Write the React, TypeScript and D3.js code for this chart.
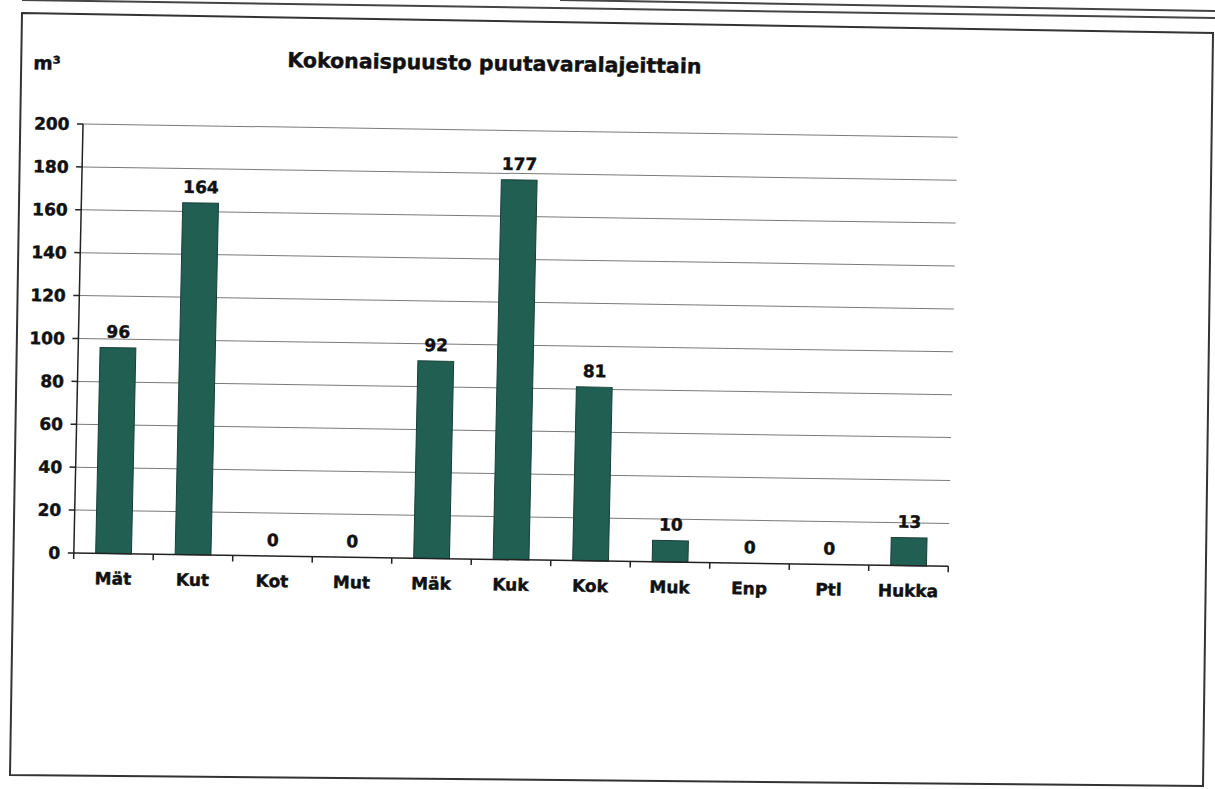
import * as d3 from "d3";

// Kokonaispuusto puutavaralajeittain (m³)
const categories = ["Mät", "Kut", "Kot", "Mut", "Mäk", "Kuk", "Kok", "Muk", "Enp", "Ptl", "Hukka"];
const values = [96, 164, 0, 0, 92, 177, 81, 10, 0, 0, 13];
const yTicks = [0, 20, 40, 60, 80, 100, 120, 140, 160, 180, 200];

const W = 1215;
const H = 789;
const plotW = 874.5;
const plotH = 429;
// the scan is slightly skewed, so the plot sits in a sheared group
const skew = "matrix(1,0.0152,-0.0215,1,73.8,553)";
const font = "'DejaVu Sans', Verdana, sans-serif";
const barFill = "#215f52";
const ink = "#111";

export default function App() {
  const x = d3.scaleBand<string>().domain(categories).range([0, plotW]).paddingInner(0.55).paddingOuter(0.275);
  const y = d3.scaleLinear().domain([0, 200]).range([0, -plotH]);
  const step = x.step();
  const mid = (c: string) => x(c)! + x.bandwidth() / 2;

  return (
    <svg width={W} height={H} style={{ position: "absolute", left: 0, top: 0, background: "#fff" }}
      fontFamily={font} fontWeight="bold">
      {/* page lines from the scan */}
      <line x1={22} y1={0} x2={1215} y2={18} stroke="#444" strokeWidth={2} />
      <line x1={560} y1={0} x2={1215} y2={11} stroke="#444" strokeWidth={2} />
      <path d="M22,13 L1213,33 L1203,786 L10,775 Z" fill="none" stroke="#333" strokeWidth={2} />

      <g transform={skew}>
        <g fill={ink} stroke={ink} strokeWidth={0.45}>
          <text x={203} y={-489} fontSize={20.5}>Kokonaispuusto puutavaralajeittain</text>
          <text x={-51} y={-483} fontSize={18.5}>m³</text>
        </g>

        {yTicks.filter((t) => t > 0).map((t) => (
          <line key={t} x1={0} x2={plotW} y1={y(t)} y2={y(t)} stroke="#7a7a7a" strokeWidth={1} />
        ))}

        {categories.map((c, i) => (
          <rect key={c} x={x(c)} y={y(values[i])} width={x.bandwidth()} height={-y(values[i])}
            fill={barFill} stroke="#163f37" strokeWidth={1} />
        ))}

        {/* y axis */}
        <line x1={0} x2={0} y1={0} y2={y(200)} stroke="#222" strokeWidth={1.5} />
        {yTicks.map((t) => (
          <g key={t}>
            <line x1={-6} x2={0} y1={y(t)} y2={y(t)} stroke="#222" strokeWidth={1.5} />
            <text x={-13.5} y={y(t)} dy="0.36em" textAnchor="end" fontSize={17}
              fill={ink} stroke={ink} strokeWidth={0.45}>{t}</text>
          </g>
        ))}

        {/* x axis */}
        <line x1={0} x2={plotW} y1={0} y2={0} stroke="#222" strokeWidth={1.5} />
        {d3.range(categories.length + 1).map((k) => (
          <line key={k} x1={k * step} x2={k * step} y1={0} y2={6} stroke="#222" strokeWidth={1.5} />
        ))}
        {categories.map((c) => (
          <text key={c} x={mid(c)} y={31} textAnchor="middle" fontSize={17}
            fill={ink} stroke={ink} strokeWidth={0.45}>{c}</text>
        ))}

        {/* value labels */}
        {categories.map((c, i) => (
          <text key={c} x={mid(c)} y={y(values[i]) - 10} textAnchor="middle" fontSize={17}
            fill={ink} stroke={ink} strokeWidth={0.45}>{values[i]}</text>
        ))}
      </g>
    </svg>
  );
}
